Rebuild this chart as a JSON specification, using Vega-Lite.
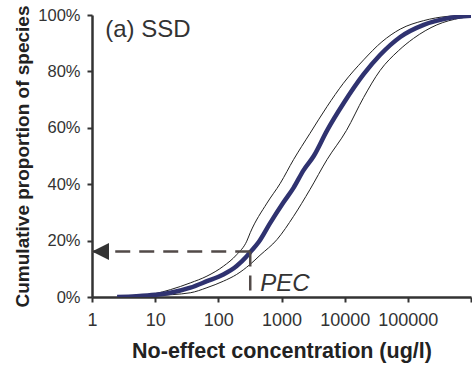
{
  "$schema": "https://vega.github.io/schema/vega-lite/v6.json",
  "autosize": "none",
  "width": 379,
  "height": 282,
  "padding": {"left": 92, "top": 15, "right": 1, "bottom": 72},
  "background": "white",
  "config": {
    "view": {"stroke": null},
    "font": "Liberation Sans",
    "axis": {
      "domainColor": "#333333", "domainWidth": 2.5, "tickColor": "#333333", "tickWidth": 2, "tickSize": 5,
      "labelColor": "#333333", "labelFont": "Liberation Sans", "titleFont": "Liberation Sans",
      "titleColor": "#222222", "titleFontWeight": "bold", "grid": false
    }
  },
  "datasets": {
    "curves": [
      {"conc": 2.5, "p": 0.0, "series": "central"},
      {"conc": 5, "p": 0.003, "series": "central"},
      {"conc": 10, "p": 0.008, "series": "central"},
      {"conc": 17.4, "p": 0.015, "series": "central"},
      {"conc": 36, "p": 0.033, "series": "central"},
      {"conc": 66, "p": 0.056, "series": "central"},
      {"conc": 120, "p": 0.08, "series": "central"},
      {"conc": 195, "p": 0.11, "series": "central"},
      {"conc": 270, "p": 0.14, "series": "central"},
      {"conc": 316, "p": 0.158, "series": "central"},
      {"conc": 436, "p": 0.195, "series": "central"},
      {"conc": 660, "p": 0.262, "series": "central"},
      {"conc": 1070, "p": 0.335, "series": "central"},
      {"conc": 1550, "p": 0.387, "series": "central"},
      {"conc": 2240, "p": 0.45, "series": "central"},
      {"conc": 3240, "p": 0.5, "series": "central"},
      {"conc": 5250, "p": 0.59, "series": "central"},
      {"conc": 9550, "p": 0.686, "series": "central"},
      {"conc": 20000, "p": 0.79, "series": "central"},
      {"conc": 36300, "p": 0.858, "series": "central"},
      {"conc": 75900, "p": 0.922, "series": "central"},
      {"conc": 178000, "p": 0.965, "series": "central"},
      {"conc": 417000, "p": 0.988, "series": "central"},
      {"conc": 1000000, "p": 0.997, "series": "central"},

      {"conc": 4, "p": 0.003, "series": "upper"},
      {"conc": 10, "p": 0.012, "series": "upper"},
      {"conc": 17.4, "p": 0.026, "series": "upper"},
      {"conc": 36, "p": 0.05, "series": "upper"},
      {"conc": 66, "p": 0.074, "series": "upper"},
      {"conc": 120, "p": 0.109, "series": "upper"},
      {"conc": 195, "p": 0.15, "series": "upper"},
      {"conc": 282, "p": 0.198, "series": "upper"},
      {"conc": 320, "p": 0.228, "series": "upper"},
      {"conc": 589, "p": 0.333, "series": "upper"},
      {"conc": 955, "p": 0.403, "series": "upper"},
      {"conc": 1550, "p": 0.487, "series": "upper"},
      {"conc": 2820, "p": 0.58, "series": "upper"},
      {"conc": 5250, "p": 0.675, "series": "upper"},
      {"conc": 9550, "p": 0.758, "series": "upper"},
      {"conc": 20000, "p": 0.841, "series": "upper"},
      {"conc": 38900, "p": 0.905, "series": "upper"},
      {"conc": 75900, "p": 0.95, "series": "upper"},
      {"conc": 178000, "p": 0.98, "series": "upper"},
      {"conc": 417000, "p": 0.995, "series": "upper"},
      {"conc": 1000000, "p": 0.999, "series": "upper"},

      {"conc": 4, "p": 0.001, "series": "lower"},
      {"conc": 10, "p": 0.005, "series": "lower"},
      {"conc": 36, "p": 0.015, "series": "lower"},
      {"conc": 66, "p": 0.033, "series": "lower"},
      {"conc": 120, "p": 0.056, "series": "lower"},
      {"conc": 195, "p": 0.08, "series": "lower"},
      {"conc": 316, "p": 0.115, "series": "lower"},
      {"conc": 457, "p": 0.148, "series": "lower"},
      {"conc": 851, "p": 0.204, "series": "lower"},
      {"conc": 1550, "p": 0.286, "series": "lower"},
      {"conc": 2820, "p": 0.381, "series": "lower"},
      {"conc": 5250, "p": 0.487, "series": "lower"},
      {"conc": 10700, "p": 0.591, "series": "lower"},
      {"conc": 20000, "p": 0.708, "series": "lower"},
      {"conc": 36300, "p": 0.803, "series": "lower"},
      {"conc": 70800, "p": 0.873, "series": "lower"},
      {"conc": 123000, "p": 0.917, "series": "lower"},
      {"conc": 288000, "p": 0.965, "series": "lower"},
      {"conc": 676000, "p": 0.989, "series": "lower"},
      {"conc": 1000000, "p": 0.995, "series": "lower"}
    ],
    "pec": [
      {"conc": 320, "conc2": 1, "p": 0.161, "p2": 0.161},
      {"conc": 320, "conc2": 320, "p": 0.161, "p2": 0}
    ],
    "arrow": [{"conc": 1, "p": 0.161}],
    "title": [{"conc": 1.62, "p": 0.921, "text": "(a) SSD"}],
    "peclabel": [{"conc": 460, "p": 0.023, "text": "PEC"}]
  },
  "layer": [
    {
      "data": {"name": "curves"},
      "transform": [{"filter": "datum.series !== 'central'"}],
      "mark": {"type": "line", "color": "#222222", "strokeWidth": 1, "interpolate": "monotone", "clip": true},
      "encoding": {
        "x": {
          "field": "conc", "type": "quantitative",
          "scale": {"type": "log", "domain": [1, 1000000], "nice": false},
          "axis": {
            "values": [1, 10, 100, 1000, 10000, 100000, 1000000],
            "labelExpr": "datum.value >= 1000000 ? '' : format(datum.value, 'd')",
            "labelFontSize": 18, "labelPadding": 9, "labelFlush": false,
            "title": "No-effect concentration (ug/l)", "titleFontSize": 21.5, "titlePadding": 11
          }
        },
        "y": {
          "field": "p", "type": "quantitative",
          "scale": {"domain": [0, 1], "nice": false},
          "axis": {
            "values": [0, 0.2, 0.4, 0.6, 0.8, 1], "format": ".0%",
            "labelFontSize": 16.5, "labelPadding": 7,
            "title": "Cumulative proportion of species", "titleFontSize": 19, "titlePadding": 5
          }
        },
        "detail": {"field": "series"}
      }
    },
    {
      "data": {"name": "curves"},
      "transform": [{"filter": "datum.series === 'central'"}],
      "mark": {"type": "line", "color": "#2f3270", "strokeWidth": 4.5, "interpolate": "monotone", "clip": true},
      "encoding": {
        "x": {"field": "conc", "type": "quantitative"},
        "y": {"field": "p", "type": "quantitative"}
      }
    },
    {
      "data": {"name": "pec"},
      "mark": {"type": "rule", "color": "#524a48", "strokeWidth": 2.5, "strokeDash": [15, 9]},
      "encoding": {
        "x": {"field": "conc", "type": "quantitative"},
        "x2": {"field": "conc2"},
        "y": {"field": "p", "type": "quantitative"},
        "y2": {"field": "p2"}
      }
    },
    {
      "data": {"name": "arrow"},
      "mark": {"type": "point", "shape": "M0,0L2,-1L2,1Z", "filled": true, "color": "#333333", "opacity": 1, "size": 289},
      "encoding": {
        "x": {"field": "conc", "type": "quantitative"},
        "y": {"field": "p", "type": "quantitative"}
      }
    },
    {
      "data": {"name": "title"},
      "mark": {"type": "text", "align": "left", "baseline": "alphabetic", "fontSize": 24, "color": "#333333", "font": "Liberation Sans"},
      "encoding": {
        "x": {"field": "conc", "type": "quantitative"},
        "y": {"field": "p", "type": "quantitative"},
        "text": {"field": "text"}
      }
    },
    {
      "data": {"name": "peclabel"},
      "mark": {"type": "text", "align": "left", "baseline": "alphabetic", "fontSize": 24, "fontStyle": "italic", "color": "#333333", "font": "Liberation Sans"},
      "encoding": {
        "x": {"field": "conc", "type": "quantitative"},
        "y": {"field": "p", "type": "quantitative"},
        "text": {"field": "text"}
      }
    }
  ]
}
